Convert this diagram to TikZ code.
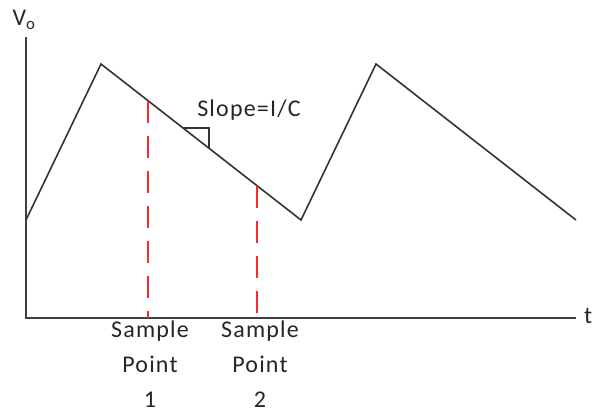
\documentclass[tikz,border=0pt]{standalone}
\usepackage{fontspec}
\setmainfont{Carlito}
\usetikzlibrary{positioning, calc}
\definecolor{samplered}{RGB}{250,40,45}

\begin{document}
\begin{tikzpicture}[x=1pt, y=-1pt,
        axis/.style={draw=black!75, line width=2pt},
        wave/.style={draw=black!80, line width=1.6pt},
        sample/.style={draw=samplered, line width=2.6pt, dash pattern=on 22pt off 13pt},
        lbl/.style={font=\fontsize{24}{35}\selectfont\addfontfeatures{LetterSpace=5}, text=black!85, align=center, inner sep=0pt}
    ]
        \useasboundingbox (0,0) rectangle (595,413);

        % axes
        \coordinate (origin) at (26,318);
        \coordinate (ytop) at (26,37);
        \coordinate (xend) at (576,318);
        \draw[axis] (ytop) -- (origin) -- (xend);
        \node[lbl, anchor=center] (vo) at (24,20) {V\textsubscript{o}};
        \node[lbl, anchor=west] (t) at (584,316) {t};

        % waveform
        \coordinate (w0) at (26,220);
        \coordinate (w1) at (101,64);
        \coordinate (w2) at (301,220);
        \coordinate (w3) at (376,64);
        \coordinate (w4) at (576,220);
        \draw[wave] (w0) -- (w1) -- (w2) -- (w3) -- (w4);

        % right angle mark
        \coordinate (m1) at ($(w1)!0.41!(w2)$);
        \coordinate (m2) at ($(w1)!0.54!(w2)$);
        \draw[wave, line width=1.3pt] (m1) -- (m1 -| m2) -- (m2);
        \node[lbl, anchor=base] (slope) at (249,116) {Slope=I/C};

        % sample points
        \coordinate (s1) at ($(w1)!0.235!(w2)$);
        \coordinate (s2) at ($(w1)!0.78!(w2)$);
        \draw[sample] (s1) -- (s1 |- origin);
        \draw[sample] (s2) -- (s2 |- origin);
        \node[lbl, anchor=north] (p1) at ([xshift=2pt]s1 |- 0,321) {Sample\\Point\\1};
        \node[lbl, anchor=north] (p2) at ([xshift=3pt]s2 |- 0,321) {Sample\\Point\\2};
    \end{tikzpicture}
\end{document}
